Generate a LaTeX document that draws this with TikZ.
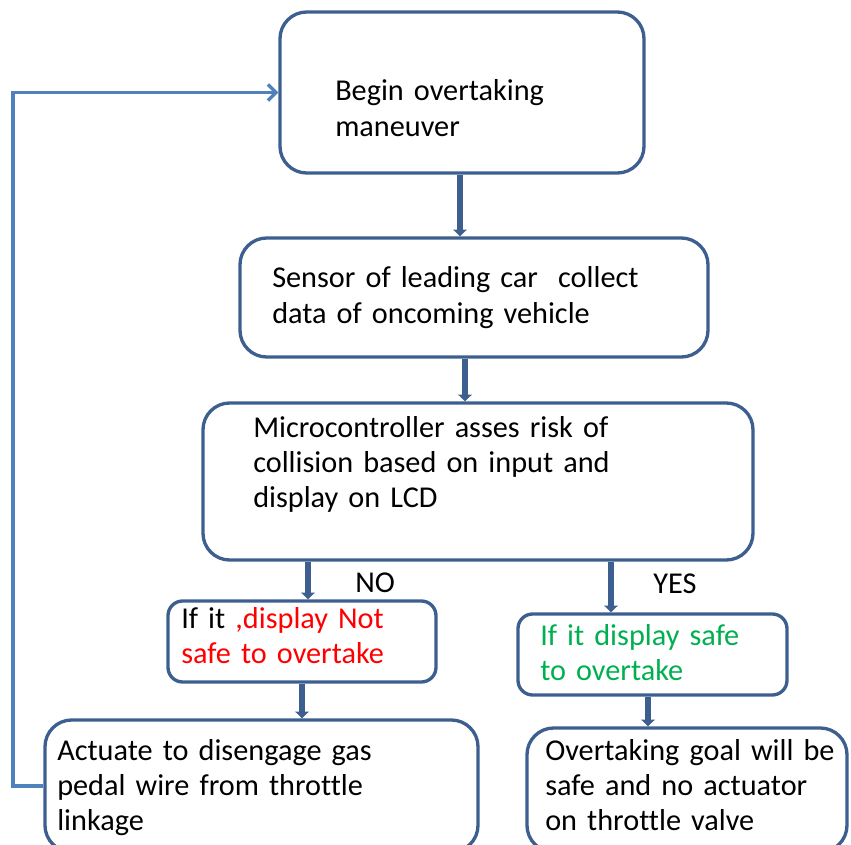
\documentclass[tikz,border=0pt]{standalone}
\usepackage{fontspec}
\setmainfont{Carlito}[Ligatures=NoCommon]
\usetikzlibrary{arrows.meta,fit}
\definecolor{boxblue}{HTML}{3D5F8F}
\definecolor{loopblue}{HTML}{4F81BD}
\definecolor{safegreen}{HTML}{00B050}
\definecolor{notred}{HTML}{FF0000}
\begin{document}
\begin{tikzpicture}[x=0.75pt,y=-0.75pt,
  box/.style={draw=boxblue,line width=2.5pt,rounded corners=20pt,inner sep=0pt},
  smallbox/.style={box,rounded corners=11pt},
  txt/.style={anchor=base west,inner sep=0pt,text width=300pt,align=left,
    font=\fontsize{22.7}{26.6}\selectfont},
  conn/.style={draw=boxblue,line width=5pt,-{Triangle[length=5pt,width=10pt]}},
  loopline/.style={draw=loopblue,line width=2.5pt,-{Straight Barb[length=6pt,width=12pt]}}]
\useasboundingbox (0,0) rectangle (851,845);
\clip (0,0) rectangle (851,845);
% box corners
\coordinate (b1a) at (280,12);  \coordinate (b1b) at (644,173);
\coordinate (b2a) at (240,238); \coordinate (b2b) at (708,357);
\coordinate (b3a) at (203,403); \coordinate (b3b) at (753,560);
\coordinate (b4a) at (168,601); \coordinate (b4b) at (436,682);
\coordinate (b5a) at (518,614); \coordinate (b5b) at (787,695);
\coordinate (b6a) at (45,720);  \coordinate (b6b) at (478,852);
\coordinate (b7a) at (527,728); \coordinate (b7b) at (847,852);
\node[box,fit=(b1a)(b1b)] (b1) {};
\node[box,fit=(b2a)(b2b)] (b2) {};
\node[box,fit=(b3a)(b3b)] (b3) {};
\node[smallbox,fit=(b4a)(b4b)] (b4) {};
\node[smallbox,fit=(b5a)(b5b)] (b5) {};
\node[box,fit=(b6a)(b6b)] (b6) {};
\node[box,fit=(b7a)(b7b)] (b7) {};
% texts
\node[txt] (t1) at (335,101) {Begin overtaking\\maneuver};
\node[txt] (t2) at (272,288) {Sensor of leading car\ \ collect\\data of oncoming vehicle};
\node[txt] (t3) at (253,437) {Microcontroller asses risk of\\collision based on input and\\display on LCD};
\node[txt] (t4) at (181,628) {If it \textcolor{notred}{,display Not}\\\textcolor{notred}{safe to overtake}};
\node[txt,text=safegreen] (t5) at (540,645) {If it display safe\\to overtake};
\node[txt] (t6) at (57,760) {Actuate to disengage gas\\pedal wire from throttle\\linkage};
\node[txt] (t7) at (545,760) {Overtaking goal will be\\safe and no actuator\\on throttle valve};
\node[txt,text width=60pt] (no) at (355,592) {NO};
\node[txt,text width=60pt] (yes) at (653,593) {YES};
% connector x positions
\coordinate (x12) at (460,0);
\coordinate (x23) at (465,0);
\coordinate (x34) at (308,0);
\coordinate (x35) at (611,0);
\coordinate (x46) at (302,0);
\coordinate (x57) at (648,0);
\coordinate (xfb) at (13,0);
\draw[conn] (b1.south -| x12) -- (b2.north -| x12);
\draw[conn] (b2.south -| x23) -- (b3.north -| x23);
\draw[conn] (b3.south -| x34) -- (b4.north -| x34);
\draw[conn] (b3.south -| x35) -- (b5.north -| x35);
\draw[conn] (b4.south -| x46) -- (b6.north -| x46);
\draw[conn] (b5.south -| x57) -- (b7.north -| x57);
\draw[loopline] (b6.west) -- (b6.west -| xfb) -- (b1.west -| xfb) -- (b1.west);
\end{tikzpicture}
\end{document}
